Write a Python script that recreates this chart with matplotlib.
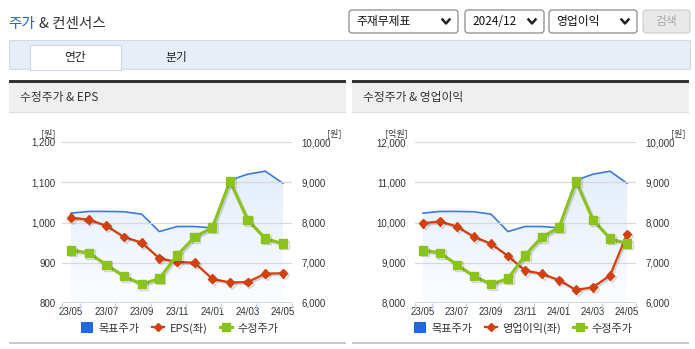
import numpy as np
import matplotlib
matplotlib.use('Agg')
import matplotlib.pyplot as plt
import matplotlib.patheffects as pe
from matplotlib.patches import Rectangle, FancyBboxPatch, Patch
from matplotlib.lines import Line2D
from matplotlib.transforms import IdentityTransform
from matplotlib.ticker import FuncFormatter

KR = ['Noto Sans CJK KR', 'DejaVu Sans']
NUM = 'Liberation Sans'

# monthly data 23/05 .. 24/05
months = ['23/05', '23/06', '23/07', '23/08', '23/09', '23/10', '23/11',
          '23/12', '24/01', '24/02', '24/03', '24/04', '24/05']
target_price = [8233, 8275, 8275, 8267, 8208, 7775, 7900, 7900, 7867, 9050, 9200, 9275, 8975]
adj_price = [7308, 7250, 6950, 6667, 6467, 6608, 7183, 7642, 7875, 9025, 8067, 7600, 7475]
eps = [1012, 1007, 992, 964, 950, 911, 902, 900, 860, 851, 852, 873, 874]
op_income = [9983, 10025, 9900, 9642, 9475, 9167, 8808, 8725, 8567, 8325, 8392, 8683, 9708]

eps_ticks = [800, 900, 1000, 1100, 1200]
op_ticks = [8000, 9000, 10000, 11000, 12000]
price_ticks = [6000, 7000, 8000, 9000, 10000]

BLUE = '#3c7bd9'
BLUE_SQ = '#1f68dd'
RED = '#d2400e'
GREEN = '#8cc21c'

W, H = 695, 349
fig = plt.figure(figsize=(W / 100, H / 100), dpi=100)
fig.patch.set_facecolor('white')
ident = IdentityTransform()


def box(x0, y0, x1, y1, **kw):
    fig.patches.append(Rectangle((x0, H - y1), x1 - x0, y1 - y0, transform=ident, **kw))


def rbox(x0, y0, x1, y1, **kw):
    fig.patches.append(FancyBboxPatch((x0, H - y1), x1 - x0, y1 - y0,
                                      boxstyle='round,pad=0,rounding_size=3',
                                      transform=ident, **kw))


def txt(x, y, s, **kw):
    kw.setdefault('va', 'center')
    kw.setdefault('family', KR)
    fig.text(x, H - y, s, transform=ident, **kw)


def chevron(x, y):
    fig.add_artist(Line2D([x - 3.5, x, x + 3.5], [H - y + 2, H - y - 2, H - y + 2],
                          transform=ident, color='#222222', lw=1.8))


# header
txt(8, 24, '주가', color='#2461d4', fontsize=10.5)
txt(39, 24, '& 컨센서스', color='#333333', fontsize=10.5)
for x0, x1, label in [(349, 458, '주재무제표'), (465, 544, '2024/12'), (549, 637, '영업이익')]:
    rbox(x0, 10, x1, 33, facecolor='white', edgecolor='#8a8a8a', lw=0.9)
    txt(x0 + 7, 21.5, label, color='#111111', fontsize=8.5)
    chevron(x1 - 12, 21.5)
rbox(643, 10, 690, 33, facecolor='#e9e9e9', edgecolor='#d0d0d0', lw=0.9)
txt(666.5, 21.5, '검색', color='#a8a8a8', fontsize=8.5, ha='center')

# tab bar
box(9, 40, 690, 69, facecolor='#e8eef8', edgecolor='#d3dbe8', lw=0.8)
box(30, 45, 121, 69.5, facecolor='white', edgecolor='#cfd7e4', lw=0.8)
box(30.5, 68, 120.5, 70, facecolor='white', edgecolor='none')
txt(75.5, 57, '연간', color='#222222', fontsize=8.5, ha='center')
txt(176, 57, '분기', color='#222222', fontsize=8.5, ha='center')


def panel(x0, x1, title):
    box(x0, 80, x1, 82.5, facecolor='#333333', edgecolor='none')
    box(x0, 82.5, x1, 112, facecolor='#efefef', edgecolor='none')
    box(x0, 111.5, x1, 113, facecolor='#dcdcdc', edgecolor='none')
    box(x0, 342, x1, 344, facecolor='#c8c8c8', edgecolor='none')
    txt(x0 + 11, 97, title, color='#333333', fontsize=8.5)


panel(9, 346, '수정주가 & EPS')
panel(352, 689, '수정주가 & 영업이익')

x = np.arange(len(months))
fmt = FuncFormatter(lambda v, p: f'{v:,.0f}')
shadow = [pe.SimpleLineShadow(offset=(1.2, -1.2), shadow_color='black', alpha=0.15), pe.Normal()]


def chart(x0, x1, left_vals, left_ticks, left_unit, left_name, lpad, legend_x):
    rect = [x0 / W, 1 - 303 / H, (x1 - x0) / W, (303 - 142) / H]
    ax = fig.add_axes(rect)
    axp = ax.twinx()
    axg = ax.twinx()
    axp.set_zorder(1)
    ax.set_zorder(2)
    axg.set_zorder(3)
    for a in (ax, axp, axg):
        a.patch.set_visible(False)
        for s in a.spines.values():
            s.set_visible(False)

    # target price area + line
    axp.set_ylim(price_ticks[0], price_ticks[-1])
    axg.set_ylim(price_ticks[0], price_ticks[-1])
    poly = axp.fill_between(x, target_price, price_ticks[0], color='none', lw=0)
    top = np.array([0.89, 0.93, 0.985])
    bot = np.array([0.985, 0.99, 1.0])
    t = np.linspace(0, 1, 256)[:, None]
    grad = np.ones((256, 1, 4))
    grad[:, 0, :3] = bot + (top - bot) * t
    im = axp.imshow(grad, extent=(-0.5, 12.5, 6000, 9300), origin='lower',
                    aspect='auto', interpolation='bicubic')
    im.set_clip_path(poly.get_paths()[0], transform=axp.transData)
    axp.plot(x, target_price, color=BLUE, lw=1.2)
    ax.set_xlim(-0.5, 12.5)

    axp.set_yticks(price_ticks)
    axp.yaxis.set_major_formatter(fmt)
    axp.tick_params(axis='y', length=0, pad=7, labelsize=7, labelcolor='#333333')
    for lab in axp.get_yticklabels():
        lab.set_family(NUM)

    # left series
    ax.set_ylim(left_ticks[0], left_ticks[-1])
    ax.set_yticks(left_ticks)
    ax.yaxis.set_major_formatter(fmt)
    ax.grid(axis='y', color='#d8d8d8', lw=0.9)
    ax.tick_params(axis='y', length=0, pad=lpad, labelsize=7, labelcolor='#333333')
    ax.plot(x, left_vals, color=RED, lw=1.6, marker='D', ms=4.5, path_effects=shadow)
    ax.axhline(left_ticks[0], color='#c3d2e2', lw=1.2, zorder=5)

    ax.set_xticks(x[::2])
    ax.set_xticklabels(months[::2])
    ax.set_xticks(np.concatenate([[-0.5], np.arange(0.5, 13, 2)]), minor=True)
    ax.tick_params(axis='x', which='major', length=0, pad=3, labelsize=7, labelcolor='#333333')
    ax.tick_params(axis='x', which='minor', length=4, width=1, color='#c3d2e2')
    for lab in ax.get_xticklabels() + ax.get_yticklabels():
        lab.set_family(NUM)

    axg.plot(x, adj_price, color=GREEN, lw=2.2, marker='s', ms=6, path_effects=shadow)
    axg.set_yticks([])
    axg.tick_params(axis='x', which='both', length=0, labelbottom=False, labeltop=False)

    # units
    txt(x0 - 7, 133, left_unit, ha='right', color='#333333', fontsize=6.5)
    txt(x1 + 50, 133, '[원]', ha='right', color='#333333', fontsize=6.5)

    handles = [Patch(facecolor=BLUE_SQ, edgecolor='none'),
               Line2D([], [], color=RED, lw=1.6, marker='D', ms=4.5),
               Line2D([], [], color=GREEN, lw=2.2, marker='s', ms=6)]
    fig.legend(handles, ['목표주가', left_name, '수정주가'], loc='center',
               bbox_to_anchor=(legend_x / W, 1 - 328 / H), ncol=3, frameon=False,
               prop={'family': KR, 'size': 8}, handlelength=1.1, handleheight=1.1,
               handletextpad=0.5, columnspacing=1.1, labelcolor='#333333')
    return ax


chart(62.2, 291.8, eps, eps_ticks, '[원]', 'EPS(좌)', 5, 180)
chart(414.5, 635.5, op_income, op_ticks, '[억원]', '영업이익(좌)', 6, 523)

fig.savefig('out.png', dpi=100)
